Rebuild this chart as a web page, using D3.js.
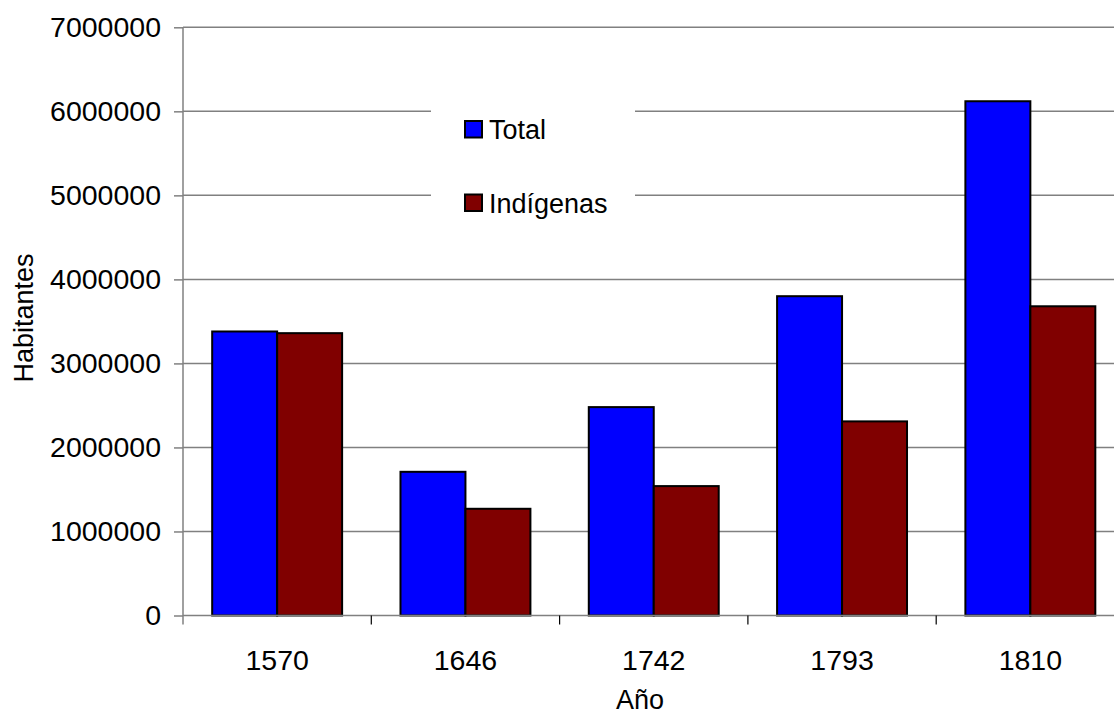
<!DOCTYPE html>
<html>
<head>
<meta charset="utf-8">
<script src="https://cdn.jsdelivr.net/npm/d3@7"></script>
<style>
	body { margin: 0; background: #fff; }
	text { font-family: "Liberation Sans", Arial, sans-serif; fill: #000; }
</style>
</head>
<body>
<svg width="1114" height="716"></svg>
<script>
var years = ["1570", "1646", "1742", "1793", "1810"];
var series = ["Total", "Indígenas"];
var total = [3380000, 1710000, 2480000, 3800000, 6120000];
var indigenas = [3360000, 1270000, 1540000, 2310000, 3680000];
var yTicks = [0, 1000000, 2000000, 3000000, 4000000, 5000000, 6000000, 7000000];
var colors = ["#0000ff", "#800000"];

var svg = d3.select("svg");

var plotLeft = 183, plotTop = 27.3, plotBottom = 615.5, plotRight = 1124.5;
var tickFont = 28.5;
var labelFont = 27;

var x = d3.scaleBand().domain(years).range([plotLeft, plotRight]);
var xs = d3.scaleBand().domain(series)
	.range([x.bandwidth() * 0.155, x.bandwidth() * 0.845]);
var y = d3.scaleLinear().domain([0, 7000000]).range([plotBottom, plotTop]);

// gridlines
svg.append("g")
	.selectAll("line")
	.data(yTicks.slice(1))
	.enter().append("line")
	.attr("x1", plotLeft).attr("x2", 1114)
	.attr("y1", function(d) { return y(d); })
	.attr("y2", function(d) { return y(d); })
	.attr("stroke", "#808080")
	.attr("stroke-width", 1.5);

// legend background hides gridlines
svg.append("rect")
	.attr("x", 431).attr("y", 98)
	.attr("width", 204).attr("height", 128)
	.attr("fill", "#fff");

// y axis
var yAxis = svg.append("g")
	.attr("transform", "translate(" + plotLeft + ",0)")
	.call(d3.axisLeft(y).tickValues(yTicks).tickSize(9).tickPadding(13)
		.tickFormat(function(d) { return String(d); }));
yAxis.select(".domain").remove();
yAxis.selectAll("line").attr("stroke", "#808080").attr("stroke-width", 1.5);
yAxis.selectAll("text").attr("font-size", tickFont).attr("font-family", "Liberation Sans, Arial, sans-serif");

svg.append("line")
	.attr("x1", plotLeft).attr("x2", plotLeft)
	.attr("y1", plotTop).attr("y2", plotBottom + 9)
	.attr("stroke", "#808080").attr("stroke-width", 1.5);

// bars
var rows = years.map(function(yr, i) {
	return { year: yr, values: [total[i], indigenas[i]] };
});

var groups = svg.append("g")
	.selectAll("g")
	.data(rows)
	.enter().append("g")
	.attr("transform", function(d) { return "translate(" + x(d.year) + ",0)"; });

groups.selectAll("rect")
	.data(function(d) { return d.values.map(function(v, k) { return { s: series[k], v: v, k: k }; }); })
	.enter().append("rect")
	.attr("x", function(d) { return xs(d.s); })
	.attr("width", xs.bandwidth())
	.attr("y", function(d) { return y(d.v); })
	.attr("height", function(d) { return plotBottom - y(d.v); })
	.attr("fill", function(d) { return colors[d.k]; })
	.attr("stroke", "#000")
	.attr("stroke-width", 2);

// x axis
svg.append("line")
	.attr("x1", plotLeft).attr("x2", 1114)
	.attr("y1", plotBottom).attr("y2", plotBottom)
	.attr("stroke", "#808080").attr("stroke-width", 1.5);

svg.append("g")
	.selectAll("line")
	.data(years.slice(1))
	.enter().append("line")
	.attr("x1", function(d) { return x(d); })
	.attr("x2", function(d) { return x(d); })
	.attr("y1", plotBottom).attr("y2", plotBottom + 9)
	.attr("stroke", "#000").attr("stroke-width", 1.2);

svg.append("g")
	.selectAll("text")
	.data(years)
	.enter().append("text")
	.attr("x", function(d) { return x(d) + x.bandwidth() / 2; })
	.attr("y", 670)
	.attr("text-anchor", "middle")
	.attr("font-size", tickFont)
	.text(function(d) { return d; });

// axis titles
svg.append("text")
	.attr("x", 640).attr("y", 709)
	.attr("text-anchor", "middle")
	.attr("font-size", labelFont)
	.text("Año");

svg.append("text")
	.attr("transform", "translate(33,318) rotate(-90)")
	.attr("text-anchor", "middle")
	.attr("font-size", labelFont)
	.text("Habitantes");

// legend
var legend = svg.append("g")
	.selectAll("g")
	.data(series)
	.enter().append("g")
	.attr("transform", function(d, i) { return "translate(465," + (121 + i * 73.5) + ")"; });

legend.append("rect")
	.attr("width", 17).attr("height", 16.5)
	.attr("fill", function(d, i) { return colors[i]; })
	.attr("stroke", "#000").attr("stroke-width", 2);

legend.append("text")
	.attr("x", 24).attr("y", 18)
	.attr("font-size", labelFont)
	.text(function(d) { return d; });
</script>
</body>
</html>
